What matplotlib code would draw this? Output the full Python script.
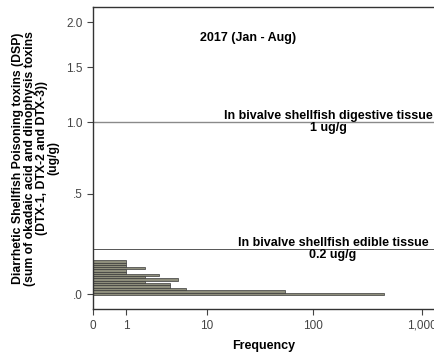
import numpy as np
import matplotlib
matplotlib.use("Agg")
import matplotlib.pyplot as plt

plt.rcParams['font.family'] = ['Liberation Sans', 'DejaVu Sans']

# Data
bin_centers = [0.00, 0.01, 0.02, 0.03, 0.04, 0.05, 0.06, 0.07, 0.08, 0.09, 0.10, 0.11, 0.12, 0.13, 0.14]
frequencies = [450, 55, 6, 4, 4, 2, 5, 2, 3, 1, 1, 2, 1, 1, 1]
bin_width = 0.01
ref_values = [1.0, 0.2]
ref_labels = ["In bivalve shellfish digestive tissue\n1 ug/g",
              "In bivalve shellfish edible tissue\n0.2 ug/g"]
x_ticks = [0, 1, 10, 100, 1000]
x_tick_labels = ["0", "1", "10", "100", "1,000"]
y_ticks = [0.0, 0.5, 1.0, 1.5, 2.0]
y_tick_labels = [".0", ".5", "1.0", "1.5", "2.0"]
title = "2017 (Jan - Aug)"


def fwd(v):
    v = np.asarray(v, dtype=float)
    return np.log10(np.maximum(1.0 + v, 1e-12))


def inv(v):
    return 10.0 ** np.asarray(v, dtype=float) - 1.0


fig = plt.figure(figsize=(4.35, 3.56), dpi=100)
ax = fig.add_axes([93 / 435, (356 - 309.3) / 356, (435 - 93) / 435, (309.3 - 7.3) / 356])
ax.set_xscale('function', functions=(fwd, inv))
ax.set_yscale('function', functions=(fwd, inv))

ax.barh(bin_centers, frequencies, height=bin_width, left=0,
        color='#8e8e7c', edgecolor='#3a3a3a', linewidth=0.5, zorder=2)

ax.set_xlim(0, 1319)
ax.set_ylim(-0.0599, 2.184)

ax.axhline(ref_values[0], color='#8a8a8a', linewidth=1.0, zorder=1)
ax.axhline(ref_values[1], color='#555555', linewidth=0.7, zorder=1)

blend = ax.get_yaxis_transform()
ax.text(0.689, ref_values[0], ref_labels[0], transform=blend,
        ha='center', va='center', fontsize=9, fontweight='bold', linespacing=1.0,
        multialignment='center')
ax.text(0.702, ref_values[1], ref_labels[1], transform=blend,
        ha='center', va='center', fontsize=9, fontweight='bold', linespacing=1.0,
        multialignment='center')

ax.text(0.453, 0.898, title, transform=ax.transAxes, ha='center', va='center',
        fontsize=9, fontweight='bold')

ax.set_xticks(x_ticks)
ax.set_xticklabels(x_tick_labels)
ax.set_yticks(y_ticks)
ax.set_yticklabels(y_tick_labels)
ax.minorticks_off()
ax.tick_params(axis='both', direction='out', length=4, width=0.8, labelsize=8.5,
               colors='#444444', labelcolor='#444444')

for s in ['left', 'bottom', 'top']:
    ax.spines[s].set_color('#333333')
    ax.spines[s].set_linewidth(1.0)
ax.spines['right'].set_visible(False)

ax.set_xlabel("Frequency", fontsize=9, fontweight='bold', labelpad=6)
ax.set_ylabel("Diarrhetic Shellfish Poisoning toxins (DSP)\n(sum of okadaic acid and dinophysis toxins\n(DTX-1, DTX-2 and DTX-3))\n(ug/g)",
              fontsize=8.8, fontweight='bold', linespacing=1.0, labelpad=4.5)

fig.savefig("out.png", dpi=100)
